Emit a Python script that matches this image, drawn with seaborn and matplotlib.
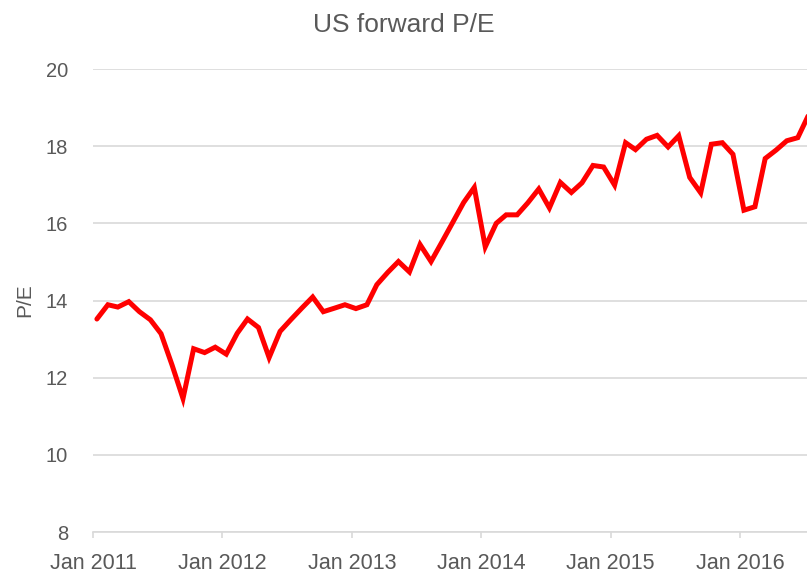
import numpy as np
import pandas as pd
import matplotlib
matplotlib.use("Agg")
import matplotlib.pyplot as plt
import matplotlib.dates as mdates
import seaborn as sns

# ---- data (monthly US forward P/E) ----
start_month = "2011-01-01"
pe_values = [
    13.52, 13.89, 13.83, 13.97, 13.71, 13.50, 13.14, 12.33, 11.46, 12.75, 12.65, 12.79,
    12.61, 13.15, 13.52, 13.30, 12.52, 13.20, 13.50, 13.80, 14.09, 13.71, 13.80, 13.89,
    13.79, 13.89, 14.41, 14.73, 15.01, 14.74, 15.45, 15.01, 15.52, 16.02, 16.54, 16.93,
    15.39, 16.00, 16.22, 16.22, 16.53, 16.89, 16.40, 17.06, 16.80, 17.05, 17.50, 17.46,
    16.99, 18.09, 17.91, 18.18, 18.28, 17.98, 18.27, 17.19, 16.79, 18.05, 18.09, 17.79,
    16.34, 16.43, 17.68, 17.90, 18.14, 18.22, 18.80,
]
y_ticks = [8, 10, 12, 14, 16, 18, 20]
x_tick_years = [2011, 2012, 2013, 2014, 2015, 2016]
title = "US forward P/E"
y_label = "P/E"

dates = pd.date_range(start_month, periods=len(pe_values), freq="MS") + pd.Timedelta(days=11)
df = pd.DataFrame({"date": dates, "pe": pe_values})

sns.set_theme(style="white")
plt.rcParams["font.family"] = ["Liberation Sans", "DejaVu Sans"]

TXT = "#595959"
GRID = "#d9d9d9"

fig = plt.figure(figsize=(8.07, 5.75), dpi=100)
ax = fig.add_axes([93 / 807, 1 - 532 / 575, 1 - 93 / 807, (532 - 69) / 575])

sns.lineplot(data=df, x="date", y="pe", ax=ax, color="#ff0000", linewidth=3.6,
             solid_joinstyle="miter")

ax.set_ylim(8, 20)
ax.set_yticks(y_ticks)
ax.set_xlim(pd.Timestamp("2011-01-01"), pd.Timestamp("2016-07-08"))
ax.set_xticks([pd.Timestamp(f"{y}-01-01") for y in x_tick_years])
ax.set_xticklabels([f"Jan {y}" for y in x_tick_years])

ax.grid(axis="y", color=GRID, linewidth=1.2)
ax.grid(axis="x", visible=False)
ax.set_axisbelow(True)
for s in ["top", "right", "left"]:
    ax.spines[s].set_visible(False)
ax.spines["bottom"].set_color(GRID)
ax.spines["bottom"].set_linewidth(1.2)

ax.tick_params(axis="x", colors=GRID, length=4, width=1.2, pad=11, labelsize=15.5, labelcolor=TXT,
               direction="out", bottom=True)
ax.tick_params(axis="y", length=0, pad=18, labelsize=14.5, labelcolor=TXT)

ax.set_xlabel("")
ax.set_ylabel(y_label, fontsize=15, color=TXT, labelpad=8)
fig.text(0.5, 1 - 25 / 575, title, ha="center", va="center", fontsize=19, color=TXT)

fig.savefig("out.png", dpi=100)
